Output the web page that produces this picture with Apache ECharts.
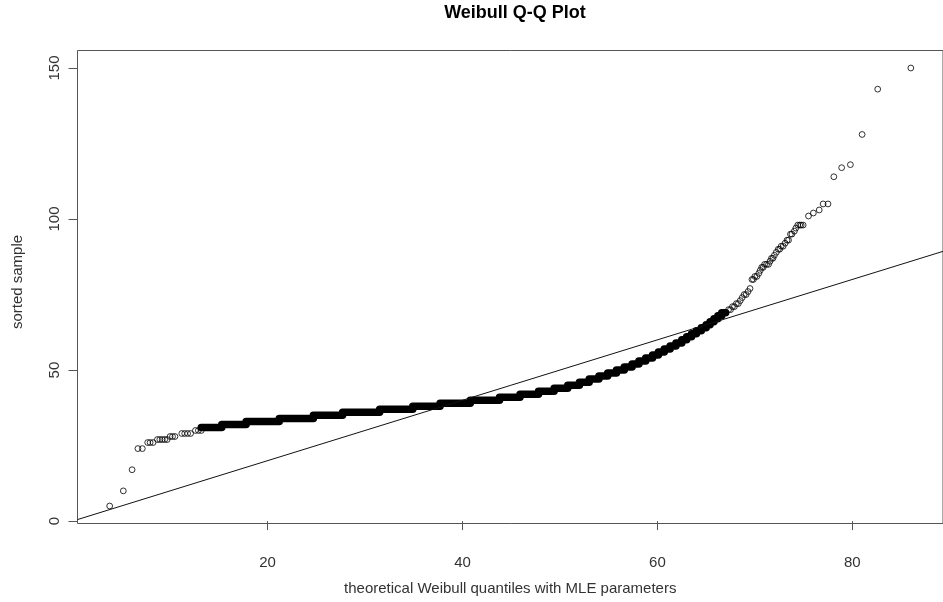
<!DOCTYPE html>
<html>
<head>
<meta charset="utf-8">
<title>Weibull Q-Q Plot</title>
<script src="https://cdn.jsdelivr.net/npm/echarts@6/dist/echarts.min.js"></script>
<style>
  html, body { margin: 0; padding: 0; background: #fff; }
  #chart { width: 943px; height: 602px; }
</style>
</head>
<body>
<div id="chart"></div>
<script>
// Tick positions on each axis
const xTicks = [20, 40, 60, 80];
const yTicks = [0, 50, 100, 150];

// Axis limits (R-style 4% padding around the data range)
const xLimits = [0.5, 89.3];
const yLimits = [-0.8, 155.8];

// Isolated points in the lower tail: [theoretical quantile, sorted sample]
const lowerTail = [
  [3.8, 5], [5.2, 10], [6.1, 17], [6.7, 24], [7.15, 24],
  [7.7, 26], [7.95, 26], [8.25, 26],
  [8.7, 27], [8.95, 27], [9.2, 27], [9.45, 27], [9.7, 27],
  [10.0, 28], [10.25, 28], [10.5, 28],
  [11.2, 29], [11.5, 29], [11.8, 29], [12.1, 29],
  [12.6, 30], [12.9, 30], [13.2, 30]
];

// Sample values that form the dense tied runs, and the quantile edges of each run
const bandValues = [31, 32, 33, 34, 35, 36, 37, 38, 39, 40, 41, 42, 43, 44, 45, 46, 47, 48, 49, 50,
  51, 52, 53, 54, 55, 56, 57, 58, 59, 60, 61, 62, 63, 64, 65, 66, 67, 68, 69];
const bandEdges = [13.2, 15.3, 17.8, 21.2, 24.7, 27.7, 31.5, 34.9, 37.7, 40.8, 43.8, 45.9, 47.8, 49.4,
  50.8, 52.0, 53.0, 54.0, 54.9, 55.8, 56.6, 57.4, 58.1, 58.8, 59.5, 60.1, 60.7, 61.3, 61.9, 62.5,
  63.0, 63.5, 64.0, 64.5, 65.0, 65.4, 65.8, 66.2, 66.6, 67.0];

// Isolated points in the upper tail
const upperTail = [
  [67.3, 70], [67.5, 70], [67.7, 71], [67.9, 71], [68.1, 72], [68.3, 72], [68.5, 73],
  [68.7, 74], [68.9, 75], [69.1, 75], [69.3, 76], [69.5, 77], [69.7, 80], [69.85, 80],
  [70.0, 81], [70.2, 81], [70.4, 82], [70.55, 83], [70.7, 84], [70.85, 84], [71.0, 85],
  [71.2, 85], [71.4, 85], [71.55, 86], [71.7, 87], [71.85, 87], [72.0, 88], [72.2, 89],
  [72.4, 90], [72.55, 90], [72.7, 91], [72.9, 91], [73.1, 92], [73.3, 93], [73.45, 93],
  [73.65, 95], [73.8, 95], [74.05, 96], [74.2, 97], [74.4, 98], [74.6, 98], [74.75, 98],
  [74.95, 98], [75.5, 101], [76.0, 102], [76.6, 103], [77.0, 105], [77.5, 105],
  [78.1, 114], [78.9, 117], [79.8, 118], [81.0, 128], [82.6, 143], [86.0, 150]
];

// Reference line through the quantile pairs
const refIntercept = 0;
const refSlope = 1;

// Build the staircase of tied runs: each run is a horizontal stretch at its value
const bandData = [];
bandValues.forEach(function (v, i) {
  bandData.push([bandEdges[i], v]);
  bandData.push([bandEdges[i + 1], v]);
});

const refData = [
  [xLimits[0], refIntercept + refSlope * xLimits[0]],
  [xLimits[1], refIntercept + refSlope * xLimits[1]]
];

const FONT = '"Liberation Sans", Arial, Helvetica, sans-serif';
const AXIS_COLOR = '#555';
const TEXT_COLOR = '#333';

const chart = echarts.init(document.getElementById('chart'), null, { renderer: 'canvas' });

const ringStyle = {
  color: 'rgba(255,255,255,0)',
  borderColor: '#000',
  borderWidth: 1
};

chart.setOption({
  animation: false,
  backgroundColor: '#fff',
  title: {
    text: 'Weibull Q-Q Plot',
    left: 515,
    top: 4,
    padding: 0,
    textAlign: 'center',
    textStyle: { fontFamily: FONT, fontSize: 18, fontWeight: 'bold', color: '#000' }
  },
  grid: {
    left: 77.5,
    top: 50.5,
    width: 876,
    height: 473,
    show: true,
    borderColor: AXIS_COLOR,
    borderWidth: 1,
    backgroundColor: 'rgba(0,0,0,0)'
  },
  xAxis: {
    type: 'value',
    min: xLimits[0],
    max: xLimits[1],
    name: 'theoretical Weibull quantiles with MLE parameters',
    nameLocation: 'middle',
    nameGap: 58,
    nameTextStyle: { fontFamily: FONT, fontSize: 15, color: TEXT_COLOR },
    axisLine: { show: false },
    splitLine: { show: false },
    axisTick: { show: true, inside: false, length: 9, customValues: xTicks,
      lineStyle: { color: AXIS_COLOR, width: 1 } },
    axisLabel: { show: true, customValues: xTicks, margin: 32,
      fontFamily: FONT, fontSize: 15, color: TEXT_COLOR }
  },
  yAxis: {
    type: 'value',
    min: yLimits[0],
    max: yLimits[1],
    name: 'sorted sample',
    nameLocation: 'middle',
    nameRotate: 90,
    nameGap: 52,
    nameTextStyle: { fontFamily: FONT, fontSize: 15, color: TEXT_COLOR, padding: [0, 0, 0, 10] },
    axisLine: { show: false },
    splitLine: { show: false },
    axisTick: { show: true, inside: false, length: 9, customValues: yTicks,
      lineStyle: { color: AXIS_COLOR, width: 1 } },
    axisLabel: { show: true, customValues: yTicks, rotate: 90, margin: 15,
      fontFamily: FONT, fontSize: 15, color: TEXT_COLOR }
  },
  series: [
    {
      name: 'tied runs',
      type: 'line',
      data: bandData,
      symbol: 'none',
      silent: true,
      z: 2,
      lineStyle: { color: '#000', width: 7.5, cap: 'round', join: 'round' }
    },
    {
      name: 'lower tail',
      type: 'scatter',
      data: lowerTail,
      symbol: 'circle',
      symbolSize: 5.8,
      silent: true,
      z: 3,
      itemStyle: ringStyle
    },
    {
      name: 'upper tail',
      type: 'scatter',
      data: upperTail,
      symbol: 'circle',
      symbolSize: 5.8,
      silent: true,
      z: 3,
      itemStyle: ringStyle
    },
    {
      name: 'reference line',
      type: 'line',
      data: refData,
      symbol: 'none',
      silent: true,
      z: 4,
      lineStyle: { color: '#111', width: 1 }
    }
  ]
});
</script>
</body>
</html>
